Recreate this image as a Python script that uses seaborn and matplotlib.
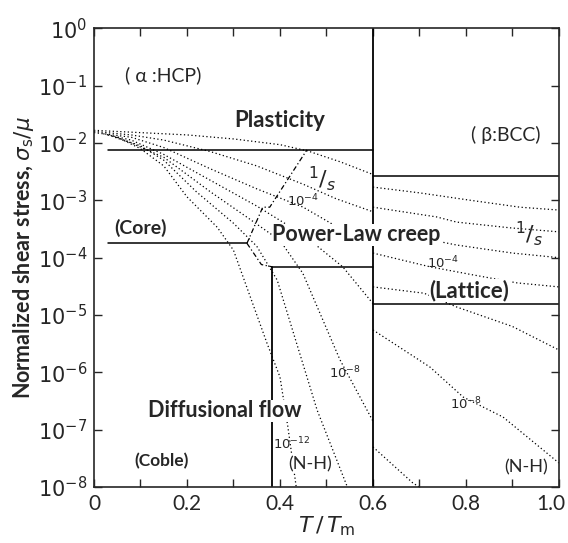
import numpy as np
import pandas as pd
import matplotlib
matplotlib.use("Agg")
import matplotlib.pyplot as plt
import matplotlib.transforms as mtransforms
import seaborn as sns

# boundaries (x = T/Tm, y = log10 of sigma_s/mu)
alpha_plast_x = [0.03, 0.6]
alpha_plast_y = [-2.12, -2.12]
beta_plast_x = [0.6, 1.0]
beta_plast_y = [-2.58, -2.58]
core_x = [0.03, 0.329]
core_y = [-3.75, -3.75]
lattice_x = [0.383, 0.6]
lattice_y = [-4.16, -4.16]
nh_x = [0.383, 0.383]
nh_y = [-4.16, -8.0]
beta_lat_x = [0.6, 1.0]
beta_lat_y = [-4.8, -4.8]
phase_x = [0.6, 0.6]
phase_y = [0.0, -8.0]
dash_x = [0.329, 0.363, 0.378, 0.458]
dash_y = [-3.75, -3.12, -3.12, -2.12]
dash2_x = [0.329, 0.36, 0.383]
dash2_y = [-3.75, -4.12, -4.16]

# strain-rate contours, alpha side
a_curves = {
    "a0": ([0.0, 0.1, 0.2, 0.3, 0.4, 0.46, 0.53, 0.6],
           [-1.78, -1.82, -1.86, -1.93, -2.03, -2.14, -2.33, -2.55]),
    "a1": ([0.0, 0.08, 0.15, 0.25, 0.35, 0.45, 0.52, 0.6],
           [-1.80, -1.86, -1.95, -2.15, -2.4, -2.72, -2.97, -3.2]),
    "a2": ([0.0, 0.08, 0.15, 0.25, 0.35, 0.45, 0.52, 0.6],
           [-1.82, -1.9, -2.08, -2.45, -2.8, -3.12, -3.45, -3.8]),
    "a3": ([0.02, 0.08, 0.15, 0.25, 0.35, 0.45, 0.535, 0.6],
           [-1.84, -1.95, -2.2, -2.65, -3.1, -3.6, -4.16, -4.8]),
    "a4": ([0.03, 0.08, 0.15, 0.25, 0.33, 0.4, 0.449, 0.529, 0.6],
           [-1.86, -2.0, -2.25, -2.85, -3.3, -3.7, -4.27, -5.78, -6.85]),
    "a5": ([0.04, 0.1, 0.15, 0.22, 0.3, 0.35, 0.394, 0.48, 0.545],
           [-1.88, -2.05, -2.3, -2.85, -3.4, -3.8, -4.39, -6.66, -8.0]),
    "a6": ([0.05, 0.1, 0.15, 0.2, 0.265, 0.3, 0.372, 0.4, 0.417, 0.435],
           [-1.9, -2.1, -2.4, -2.94, -3.47, -3.87, -5.49, -6.08, -6.95, -8.0]),
}
# strain-rate contours, beta side
b_curves = {
    "b1": ([0.6, 0.7, 0.81, 0.916, 1.0], [-2.77, -2.87, -3.0, -3.12, -3.17]),
    "b2": ([0.6, 0.737, 0.78, 0.895, 1.0], [-3.12, -3.29, -3.38, -3.48, -3.55]),
    "b3": ([0.6, 0.7, 0.78, 0.9, 1.0], [-3.55, -3.65, -3.78, -3.92, -4.0]),
    "b4": ([0.6, 0.723, 0.815, 0.91, 1.0], [-3.92, -4.16, -4.3, -4.44, -4.51]),
    "b5": ([0.6, 0.71, 0.78, 0.9, 1.0], [-4.51, -4.62, -4.86, -5.2, -5.61]),
    "b6": ([0.6, 0.723, 0.794, 0.88, 1.0], [-5.26, -5.91, -6.43, -6.78, -7.58]),
    "b7": ([0.6, 0.686, 0.7], [-7.3, -7.93, -8.0]),
}

rows = []
for name, (xs, ys) in {**a_curves, **b_curves}.items():
    for i, (x, y) in enumerate(zip(xs, ys)):
        rows.append({"curve": name, "order": i, "T": x, "stress": 10.0 ** y})
df = pd.DataFrame(rows)

sns.set_style("ticks")
plt.rcParams["font.family"] = ["Lato", "DejaVu Sans"]
plt.rcParams["mathtext.fontset"] = "dejavusans"

fig = plt.figure(figsize=(5.68, 5.43), dpi=100)
ax = fig.add_axes([0.1655, 0.103, 0.8185, 0.845])

sns.lineplot(data=df, x="T", y="stress", units="curve", estimator=None,
             sort=False, color="black", lw=0.9, ls=(0, (1, 2)), ax=ax)

def seg(xs, ys, **kw):
    ax.plot(xs, [10.0 ** v for v in ys], color="black", **kw)

seg(alpha_plast_x, alpha_plast_y, lw=1.1)
seg(beta_plast_x, beta_plast_y, lw=1.1)
seg(core_x, core_y, lw=1.1)
seg(lattice_x, lattice_y, lw=1.1)
seg(nh_x, nh_y, lw=1.3)
seg(beta_lat_x, beta_lat_y, lw=1.1)
seg(phase_x, phase_y, lw=1.3)
seg(dash_x, dash_y, lw=0.9, ls=(0, (4, 2, 1, 2)))
seg(dash2_x, dash2_y, lw=0.9, ls=(0, (4, 2, 1, 2)))

ax.set_yscale("log")
ax.set_xlim(0, 1.0)
ax.set_ylim(1e-8, 1e0)
ax.set_xticks(np.arange(0, 1.01, 0.1))
ax.set_xticklabels(["0", "", "0.2", "", "0.4", "", "0.6", "", "0.8", "", "1.0"])
ax.set_yticks([10.0 ** k for k in range(-8, 1)])
ax.set_yticklabels([r"$10^{%d}$" % k for k in range(-8, 1)])
ax.minorticks_off()
ax.tick_params(direction="in", top=True, right=True, length=6, width=1,
               labelsize=15, pad=5)
for s in ax.spines.values():
    s.set_linewidth(1.2)
# keep "1.0" inside the canvas
last = ax.get_xticklabels()[-1]
last.set_transform(last.get_transform() +
                   mtransforms.ScaledTranslation(-8 / 100, 0, fig.dpi_scale_trans))

ax.set_xlabel(r"$T\,/\,T_{\mathrm{m}}$", fontsize=16, labelpad=0)
ax.set_ylabel(r"Normalized shear stress, $\sigma_{\mathrm{s}}/\mu$",
              fontsize=15.5, fontweight="bold", labelpad=1)

def lab(x, y, s, size=13, weight="bold", ha="center"):
    ax.text(x, 10.0 ** y, s, fontsize=size, fontweight=weight, ha=ha,
            va="center", bbox=dict(fc="white", ec="none", pad=0.5))

lab(0.067, -0.82, "( α :HCP)", size=14, weight="normal", ha="left")
lab(0.40, -1.6, "Plasticity", size=16)
lab(0.886, -1.86, "( β:BCC)", size=14, weight="normal")
lab(0.10, -3.48, "(Core)", size=14)
lab(0.565, -3.6, "Power-Law creep", size=15.5)
lab(0.807, -4.58, "(Lattice)", size=16)
lab(0.282, -6.67, "Diffusional flow", size=15.5)
lab(0.145, -7.55, "(Coble)", size=12.5)
lab(0.465, -7.6, "(N-H)", size=13, weight="normal")
lab(0.93, -7.65, "(N-H)", size=13, weight="normal")

def rate(x, y, s, size=9.5):
    ax.text(x, 10.0 ** y, s, fontsize=size, ha="center", va="center")

rate(0.49, -2.62, r"$^{1}/_{s}$", size=16)
rate(0.935, -3.58, r"$^{1}/_{s}$", size=16)
rate(0.45, -3.0, r"$10^{-4}$")
rate(0.75, -4.08, r"$10^{-4}$")
rate(0.54, -6.0, r"$10^{-8}$")
rate(0.80, -6.55, r"$10^{-8}$")
rate(0.425, -7.25, r"$10^{-12}$")

fig.savefig("out.png", dpi=100)
